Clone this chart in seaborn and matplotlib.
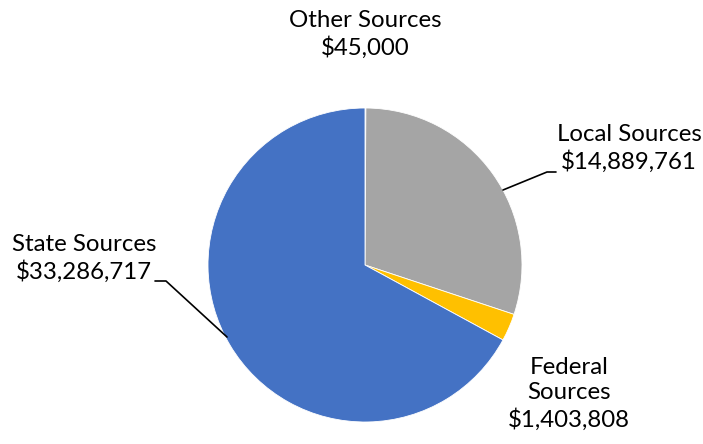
import matplotlib
matplotlib.use("Agg")
import matplotlib.pyplot as plt
import seaborn as sns

# ---- data ----
categories = ["Other Sources", "Local Sources", "Federal Sources", "State Sources"]
amounts = [45000, 14889761, 1403808, 33286717]
label_texts = ["Other Sources\n$45,000", "Local Sources\n$14,889,761",
               "Federal\nSources\n$1,403,808", "State Sources\n$33,286,717"]
colors_hex = ["#ED7D31", "#A5A5A5", "#FFC000", "#4472C4"]

sns.set_theme(style="white")
plt.rcParams['font.family'] = ['Lato', 'DejaVu Sans']
palette = sns.color_palette(colors_hex)

W, H = 703, 444
fig = plt.figure(figsize=(W / 100, H / 100), dpi=100)
cx, cy, R = 365, 265, 157
ax = fig.add_axes([(cx - R) / W, (H - cy - R) / H, 2 * R / W, 2 * R / H])
ax.pie(amounts, colors=palette, startangle=90, counterclock=False, radius=1,
       wedgeprops=dict(linewidth=0.6, edgecolor="white"))
ax.set_xlim(-1, 1)
ax.set_ylim(-1, 1)
ax.set_aspect("equal")
ax.axis("off")


def d(px, py):
    return ((px - cx) / R, (cy - py) / R)


fs = 17.3
label_pos = [(365, 34), (629, 148), (569, 394), (84, 258)]
for txt, (px, py) in zip(label_texts, label_pos):
    x, y = d(px, py)
    ax.text(x, y, txt, ha="center", va="center", fontsize=fs,
            linespacing=1.28, color="black", clip_on=False)

# leader lines
leaders = [
    [(503, 190), (547, 172), (556, 172)],
    [(155, 281), (166, 281), (227, 337)],
]
for pts in leaders:
    xs, ys = zip(*[d(*p) for p in pts])
    ax.plot(xs, ys, color="black", linewidth=1.2, clip_on=False)

fig.savefig("out.png", dpi=100, facecolor="white")
